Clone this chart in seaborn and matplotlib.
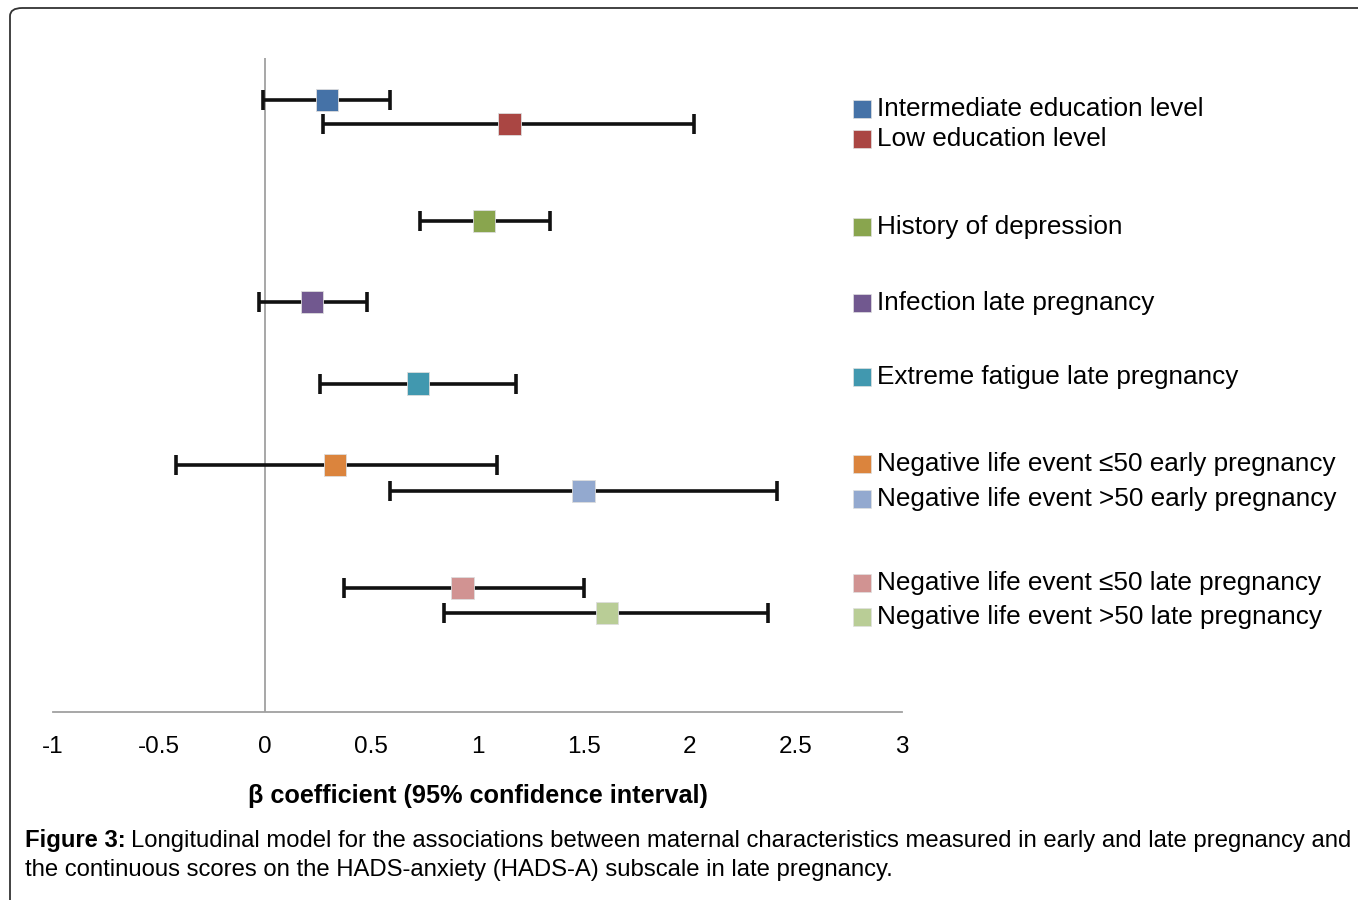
import matplotlib
matplotlib.use("Agg")
import matplotlib.pyplot as plt
from matplotlib.patches import FancyBboxPatch, Rectangle
import seaborn as sns
import pandas as pd

# data
labels = [
    "Intermediate education level",
    "Low education level",
    "History of depression",
    "Infection late pregnancy",
    "Extreme fatigue late pregnancy",
    "Negative life event \u226450 early pregnancy",
    "Negative life event >50 early pregnancy",
    "Negative life event \u226450 late pregnancy",
    "Negative life event >50 late pregnancy",
]
beta = [0.29, 1.15, 1.03, 0.22, 0.72, 0.33, 1.50, 0.93, 1.61]
ci_low = [-0.01, 0.27, 0.73, -0.03, 0.26, -0.42, 0.59, 0.37, 0.84]
ci_high = [0.59, 2.02, 1.34, 0.48, 1.18, 1.09, 2.41, 1.50, 2.37]
ypos = [9.36, 8.99, 7.51, 6.27, 5.02, 3.78, 3.38, 1.90, 1.51]
colors = ["#4572A7", "#AA4643", "#89A54E", "#71588F", "#4198AF",
          "#DB843D", "#93A9CF", "#D19392", "#B9CD96"]
xticks = [-1, -0.5, 0, 0.5, 1, 1.5, 2, 2.5, 3]

df = pd.DataFrame({"label": labels, "beta": beta, "lo": ci_low,
                   "hi": ci_high, "y": ypos})

sns.set_style("white")
plt.rcParams["font.family"] = ["Liberation Sans", "DejaVu Sans"]
plt.rcParams["text.color"] = "black"
plt.rcParams["axes.labelcolor"] = "black"
plt.rcParams["xtick.labelcolor"] = "black"

W, H = 1358, 900
fig = plt.figure(figsize=(W / 100, H / 100), dpi=100)
ax = fig.add_axes([53 / W, 188 / H, 849 / W, 654 / H])

# confidence interval whiskers
ax.errorbar(df["beta"], df["y"],
            xerr=[df["beta"] - df["lo"], df["hi"] - df["beta"]],
            fmt="none", ecolor="#111111", elinewidth=2.6,
            capsize=7, capthick=2.6, zorder=2)

sns.scatterplot(data=df, x="beta", y="y", hue="label", palette=colors,
                marker="s", s=260, edgecolor="#dddddd", linewidth=0.6,
                legend=False, zorder=3, ax=ax)

ax.axvline(0, color="#a0a0a0", lw=1.3, zorder=1)
ax.set_xlim(-1, 3)
ax.set_ylim(0, 10)
ax.set_xticks(xticks)
ax.set_xticklabels([f"{t:g}" for t in xticks], fontsize=17.5)
ax.set_yticks([])
ax.set_ylabel("")
ax.set_xlabel("\u03b2 coefficient (95% confidence interval)",
              fontsize=18.2, fontweight="bold", labelpad=19)
for s in ["top", "right", "left"]:
    ax.spines[s].set_visible(False)
ax.spines["bottom"].set_color("#a0a0a0")
ax.spines["bottom"].set_linewidth(1.3)
ax.tick_params(axis="x", direction="out", length=8, width=1.3,
               color="#a0a0a0", labelcolor="black", pad=9)

# legend drawn by hand to keep the spacing of the original
leg_y = [109, 139, 227, 303, 377, 464, 499, 583, 617]
for lab, col, yy in zip(labels, colors, leg_y):
    fig.add_artist(Rectangle((853 / W, (H - yy - 9) / H), 18 / W, 18 / H,
                             transform=fig.transFigure, facecolor=col,
                             edgecolor="#e0e0e0", lw=0.5))
    fig.text(877 / W, (H - yy) / H, lab, fontsize=18.8, va="center",
             ha="left")

# caption
fig.canvas.draw()
r = fig.canvas.get_renderer()
t1 = fig.text(25 / W, (H - 841) / H, "Figure 3:", fontsize=17.2,
              fontweight="bold", va="center", ha="left")
bb = t1.get_window_extent(renderer=r)
fig.text((bb.x1 + 5) / W, (H - 841) / H,
         "Longitudinal model for the associations between maternal characteristics "
         "measured in early and late pregnancy and",
         fontsize=17.2, va="center", ha="left")
fig.text(25 / W, (H - 870) / H,
         "the continuous scores on the HADS-anxiety (HADS-A) subscale in late pregnancy.",
         fontsize=17.2, va="center", ha="left")

# frame around the figure
fig.add_artist(FancyBboxPatch((10 / W, -20 / H), 1400 / W, 912 / H,
                              boxstyle="round,pad=0,rounding_size=0.009",
                              transform=fig.transFigure, fill=False,
                              edgecolor="#333333", lw=1.3))

fig.savefig("out.png", dpi=100)
